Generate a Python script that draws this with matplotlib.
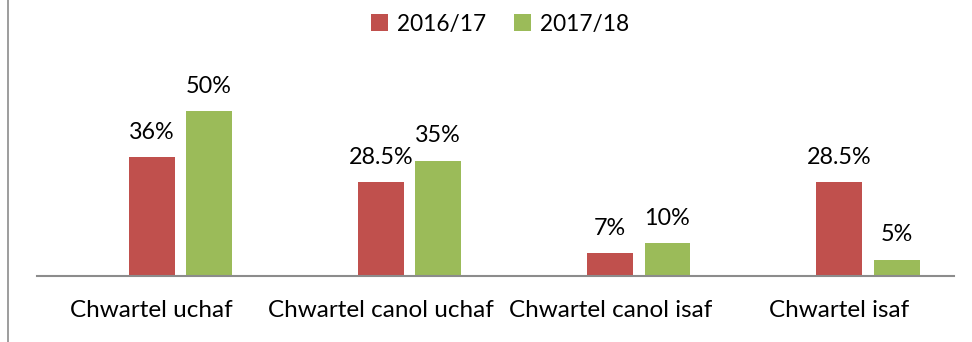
import numpy as np
import matplotlib.pyplot as plt
from matplotlib.lines import Line2D

# quartile groups and the two survey years
categories = ["Chwartel uchaf", "Chwartel canol uchaf", "Chwartel canol isaf", "Chwartel isaf"]
years = ["2016/17", "2017/18"]
vals_1617 = [36, 28.5, 7, 28.5]
vals_1718 = [50, 35, 10, 5]
labels_1617 = ["36%", "28.5%", "7%", "28.5%"]
labels_1718 = ["50%", "35%", "10%", "5%"]

red = "#C0504D"
green = "#9BBB59"

plt.rcParams['font.family'] = ['Lato', 'DejaVu Sans']

fig = plt.figure(figsize=(9.72, 3.42), dpi=100)
ax = fig.add_axes([37/972, 66/342, 917/972, 231/342])

x = np.arange(len(categories))
w = 0.2
b1 = ax.bar(x, vals_1617, w, color=red, label=years[0])
b2 = ax.bar(x + 0.25, vals_1718, w, color=green, label=years[1])

# value labels above each bar
for bars, labs in [(b1, labels_1617), (b2, labels_1718)]:
    for rect, lab in zip(bars, labs):
        ax.annotate(lab, (rect.get_x() + rect.get_width()/2, rect.get_height()),
                    xytext=(0, 13), textcoords="offset points",
                    ha="center", va="baseline", fontsize=16.8, color="black")

ax.set_xlim(-0.5, 3.5)
ax.set_ylim(0, 70)
ax.set_xticks(x)
ax.set_xticklabels(categories, fontsize=17.5)
ax.tick_params(axis="x", length=0, pad=17)
ax.set_yticks([])
for s in ["top", "right", "left"]:
    ax.spines[s].set_visible(False)
ax.spines["bottom"].set_color("#8C8C8C")
ax.spines["bottom"].set_linewidth(1.5)

ax.legend(loc="center", bbox_to_anchor=(500/972, 1 - 24/342), bbox_transform=fig.transFigure,
          ncol=2, frameon=False, fontsize=16.3, handlelength=0.75, handleheight=0.75,
          handletextpad=0.4, columnspacing=1.2)

# thin frame edge on the left
fig.add_artist(Line2D([7.5/972, 7.5/972], [0, 1], color="#8C8C8C", lw=1.2))

fig.savefig("out.png", dpi=100)
